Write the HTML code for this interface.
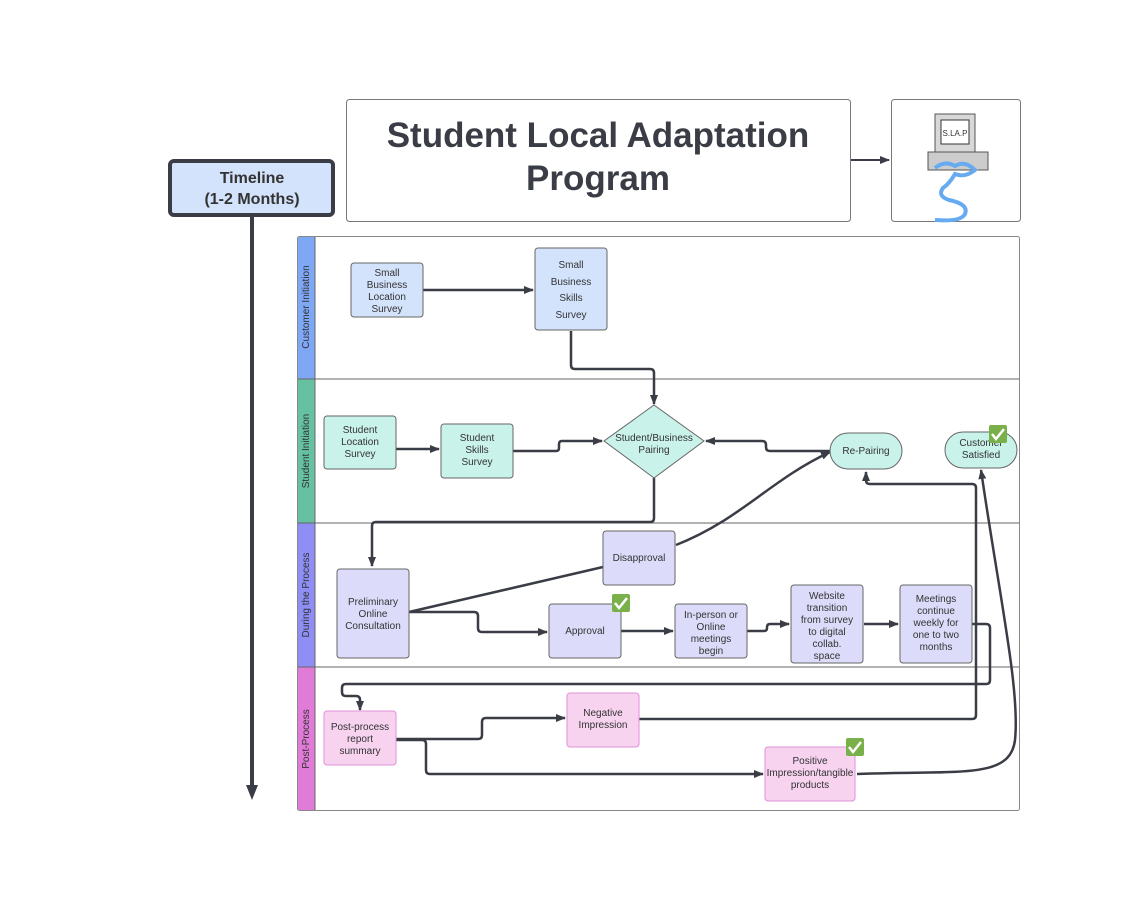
<!DOCTYPE html>
<html><head><meta charset="utf-8"><style>
html,body{margin:0;padding:0;background:#fff}
svg{display:block}
text{font-family:"Liberation Sans",sans-serif;fill:#333}
</style></head><body>
<svg width="1125" height="900" viewBox="0 0 1125 900" xmlns="http://www.w3.org/2000/svg">
<defs>
<marker id="a" markerWidth="10" markerHeight="8" refX="9" refY="4" orient="auto" markerUnits="userSpaceOnUse"><path d="M0,0 L10,4 L0,8 z" fill="#3a3d45"/></marker>
</defs>
<!-- title -->
<rect x="346.5" y="99.5" width="504" height="122" rx="3" fill="#fff" stroke="#777"/>
<text x="598" y="147" font-size="35" font-weight="bold" text-anchor="middle" style="fill:#3a3d45">Student Local Adaptation</text>
<text x="598" y="190" font-size="35" font-weight="bold" text-anchor="middle" style="fill:#3a3d45">Program</text>
<rect x="891.5" y="99.5" width="129" height="122" rx="3" fill="#fff" stroke="#777"/>
<line x1="851" y1="160" x2="889" y2="160" stroke="#3a3d45" stroke-width="2" marker-end="url(#a)"/>
<!-- computer icon -->
<rect x="935" y="114" width="40" height="38" fill="#d8d8d8" stroke="#555"/>
<rect x="941" y="120" width="28" height="24" fill="#fff" stroke="#333"/>
<text x="955" y="136" font-size="8" text-anchor="middle">S.LA.P</text>
<rect x="928" y="152" width="60" height="18" fill="#ccc" stroke="#555"/>
<path d="M935,168 q10,-8 20,-2 q10,-6 20,4 q-10,8 -20,4 q-6,10 -12,14 q-6,8 6,12 q20,4 16,14 q-4,8 -30,6" fill="none" stroke="#66aaf0" stroke-width="4"/>
<!-- timeline -->
<rect x="170" y="161" width="163" height="54" rx="4" fill="#d4e3fc" stroke="#3a3d45" stroke-width="4"/>
<text x="252" y="183" font-size="16" font-weight="bold" text-anchor="middle">Timeline</text>
<text x="252" y="204" font-size="16" font-weight="bold" text-anchor="middle">(1-2 Months)</text>
<line x1="252" y1="217" x2="252" y2="790" stroke="#3a3d45" stroke-width="4"/>
<path d="M246,785 L252,800 L258,785 z" fill="#3a3d45"/>
<!-- lanes -->
<rect x="297.5" y="236.5" width="722" height="574" rx="2" fill="#fff" stroke="#888"/>
<rect x="298" y="237" width="17" height="142" fill="#7ea8f5"/>
<rect x="298" y="379" width="17" height="144" fill="#66c0a2"/>
<rect x="298" y="523" width="17" height="144" fill="#8f8ef5"/>
<rect x="298" y="667" width="17" height="143" fill="#e07bd8"/>
<line x1="315" y1="237" x2="315" y2="810" stroke="#666"/>
<line x1="298" y1="379" x2="1019" y2="379" stroke="#666"/>
<line x1="298" y1="523" x2="1019" y2="523" stroke="#666"/>
<line x1="298" y1="667" x2="1019" y2="667" stroke="#666"/>
<g font-size="10" text-anchor="middle">
<text transform="translate(309,307) rotate(-90)">Customer Initiation</text>
<text transform="translate(309,451) rotate(-90)">Student Initiation</text>
<text transform="translate(309,595) rotate(-90)">During the Process</text>
<text transform="translate(309,739) rotate(-90)">Post-Process</text>
</g>
<!-- connectors -->
<g fill="none" stroke="#3a3d45" stroke-width="2.5">
<path d="M423,290 H533" marker-end="url(#a)"/>
<path d="M571,331 V365 q0,4 4,4 H650 q4,0 4,4 V404" marker-end="url(#a)"/>
<path d="M396,449 H439" marker-end="url(#a)"/>
<path d="M513,451 H556 q3,0 3,-3 V444 q0,-3 3,-3 H602" marker-end="url(#a)"/>
<path d="M830,451 H770 q-4,0 -4,-4 V445 q0,-4 -4,-4 H706" marker-end="url(#a)"/>
<path d="M654,478 V518 q0,4 -4,4 H376 q-4,0 -4,4 V566" marker-end="url(#a)"/>
<path d="M409,612 L603,567"/>
<path d="M676,545 C740,520 770,480 830,452" marker-end="url(#a)"/>
<path d="M409,612 H474 q4,0 4,4 V628 q0,4 4,4 H547" marker-end="url(#a)"/>
<path d="M621,631 H673" marker-end="url(#a)"/>
<path d="M747,631 H764 q3,0 3,-3 V627 q0,-3 3,-3 H789" marker-end="url(#a)"/>
<path d="M864,624 H898" marker-end="url(#a)"/>
<path d="M972,624 H986 q4,0 4,4 V680 q0,4 -4,4 H346 q-4,0 -4,4 V692 q0,4 4,4 h10 q4,0 4,4 V710" marker-end="url(#a)"/>
<path d="M396,739 H478 q4,0 4,-4 V722 q0,-4 4,-4 H565" marker-end="url(#a)"/>
<path d="M639,719 H972 q4,0 4,-4 V488 q0,-4 -4,-4 H870 q-4,0 -4,-4 V472" marker-end="url(#a)"/>
<path d="M396,740 H422 q4,0 4,4 V770 q0,4 4,4 H763" marker-end="url(#a)"/>
<path d="M857,774 C960,770 1010,780 1015,740 C1020,690 1000,600 981,470" marker-end="url(#a)"/>
</g>
<!-- nodes -->
<g font-size="10" text-anchor="middle" stroke-width="1">
<rect x="351" y="263" width="72" height="54" rx="3" fill="#d4e3fc" stroke="#666"/>
<text x="387" y="276">Small</text><text x="387" y="288">Business</text><text x="387" y="300">Location</text><text x="387" y="312">Survey</text>
<rect x="535" y="248" width="72" height="82" rx="3" fill="#d4e3fc" stroke="#666"/>
<text x="571" y="268">Small</text><text x="571" y="285">Business</text><text x="571" y="301">Skills</text><text x="571" y="318">Survey</text>
<rect x="324" y="416" width="72" height="53" rx="3" fill="#c9f2ea" stroke="#666"/>
<text x="360" y="433">Student</text><text x="360" y="445">Location</text><text x="360" y="457">Survey</text>
<rect x="441" y="424" width="72" height="54" rx="3" fill="#c9f2ea" stroke="#666"/>
<text x="477" y="441">Student</text><text x="477" y="453">Skills</text><text x="477" y="465">Survey</text>
<path d="M654,405 L704,441 L654,478 L604,441 z" fill="#c9f2ea" stroke="#666"/>
<text x="654" y="441">Student/Business</text><text x="654" y="453">Pairing</text>
<rect x="830" y="433" width="72" height="36" rx="18" fill="#c9f2ea" stroke="#666"/>
<text x="866" y="454">Re-Pairing</text>
<rect x="945" y="432" width="72" height="36" rx="18" fill="#c9f2ea" stroke="#666"/>
<text x="981" y="446">Customer</text><text x="981" y="458">Satisfied</text>
<rect x="603" y="531" width="72" height="54" rx="3" fill="#dcdcfa" stroke="#666"/>
<text x="639" y="561">Disapproval</text>
<rect x="337" y="569" width="72" height="89" rx="3" fill="#dcdcfa" stroke="#666"/>
<text x="373" y="605">Preliminary</text><text x="373" y="617">Online</text><text x="373" y="629">Consultation</text>
<rect x="549" y="604" width="72" height="54" rx="3" fill="#dcdcfa" stroke="#666"/>
<text x="585" y="634">Approval</text>
<rect x="675" y="604" width="72" height="54" rx="3" fill="#dcdcfa" stroke="#666"/>
<text x="711" y="618">In-person or</text><text x="711" y="630">Online</text><text x="711" y="642">meetings</text><text x="711" y="654">begin</text>
<rect x="791" y="585" width="72" height="78" rx="3" fill="#dcdcfa" stroke="#666"/>
<text x="827" y="599">Website</text><text x="827" y="611">transition</text><text x="827" y="623">from survey</text><text x="827" y="635">to digital</text><text x="827" y="647">collab.</text><text x="827" y="659">space</text>
<rect x="900" y="585" width="72" height="78" rx="3" fill="#dcdcfa" stroke="#666"/>
<text x="936" y="602">Meetings</text><text x="936" y="614">continue</text><text x="936" y="626">weekly for</text><text x="936" y="638">one to two</text><text x="936" y="650">months</text>
<rect x="324" y="711" width="72" height="54" rx="3" fill="#f7d3f0" stroke="#e090d8"/>
<text x="360" y="730">Post-process</text><text x="360" y="742">report</text><text x="360" y="754">summary</text>
<rect x="567" y="693" width="72" height="54" rx="3" fill="#f7d3f0" stroke="#e090d8"/>
<text x="603" y="716">Negative</text><text x="603" y="728">Impression</text>
<rect x="765" y="747" width="90" height="54" rx="3" fill="#f7d3f0" stroke="#e090d8"/>
<text x="810" y="764">Positive</text><text x="810" y="776">Impression/tangible</text><text x="810" y="788">products</text>
</g>
<!-- checks -->
<g>
<rect x="989" y="425" width="18" height="18" rx="2" fill="#7ab04a"/>
<path d="M992,434 l4,5 l8,-10" stroke="#fff" stroke-width="2.5" fill="none"/>
<rect x="612" y="594" width="18" height="18" rx="2" fill="#7ab04a"/>
<path d="M615,603 l4,5 l8,-10" stroke="#fff" stroke-width="2.5" fill="none"/>
<rect x="846" y="738" width="18" height="18" rx="2" fill="#7ab04a"/>
<path d="M849,747 l4,5 l8,-10" stroke="#fff" stroke-width="2.5" fill="none"/>
</g>
</svg>
</body></html>
